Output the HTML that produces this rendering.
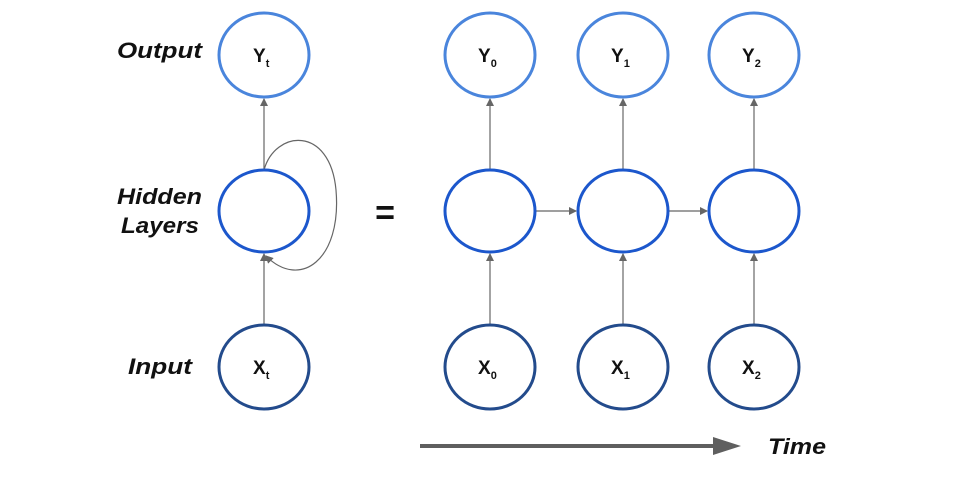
<!DOCTYPE html>
<html><head><style>body{margin:0;background:#fff}</style></head><body>
<svg width="975" height="474" viewBox="0 0 975 474" xmlns="http://www.w3.org/2000/svg" font-family="'Liberation Sans', sans-serif">
<defs><marker id="a" markerWidth="8" markerHeight="8" refX="7" refY="4" orient="auto" markerUnits="userSpaceOnUse"><path d="M0,0 L8,4 L0,8 z" fill="#666"/></marker></defs>
<g font-weight="bold" font-style="italic" font-size="22" fill="#111">
<text x="117" y="58" textLength="85" lengthAdjust="spacingAndGlyphs">Output</text>
<text x="117" y="204" textLength="85" lengthAdjust="spacingAndGlyphs">Hidden</text>
<text x="121" y="233" textLength="78" lengthAdjust="spacingAndGlyphs">Layers</text>
<text x="128" y="374" textLength="64" lengthAdjust="spacingAndGlyphs">Input</text>
<text x="768" y="454" textLength="58" lengthAdjust="spacingAndGlyphs">Time</text>
</g>
<text x="385" y="224" font-size="34" font-weight="bold" text-anchor="middle" fill="#111">=</text>
<g stroke="#666" stroke-width="1.2" fill="none">
<line x1="264" y1="170" x2="264" y2="99" marker-end="url(#a)"/>
<line x1="264" y1="325" x2="264" y2="254" marker-end="url(#a)"/>
<path d="M264,170 C275,130 330,125 336,190 C342,260 300,290 266,256" marker-end="url(#a)"/>
<line x1="490" y1="170" x2="490" y2="99" marker-end="url(#a)"/>
<line x1="623" y1="170" x2="623" y2="99" marker-end="url(#a)"/>
<line x1="754" y1="170" x2="754" y2="99" marker-end="url(#a)"/>
<line x1="490" y1="325" x2="490" y2="254" marker-end="url(#a)"/>
<line x1="623" y1="325" x2="623" y2="254" marker-end="url(#a)"/>
<line x1="754" y1="325" x2="754" y2="254" marker-end="url(#a)"/>
<line x1="536" y1="211" x2="576" y2="211" marker-end="url(#a)"/>
<line x1="669" y1="211" x2="707" y2="211" marker-end="url(#a)"/>
</g>
<line x1="420" y1="446" x2="716" y2="446" stroke="#5f5f5f" stroke-width="4"/>
<path d="M713,437 L741,446 L713,455 z" fill="#5f5f5f"/>
<g fill="none" stroke-width="3">
<g stroke="#4a85dc">
<ellipse cx="264" cy="55" rx="45" ry="42"/><ellipse cx="490" cy="55" rx="45" ry="42"/><ellipse cx="623" cy="55" rx="45" ry="42"/><ellipse cx="754" cy="55" rx="45" ry="42"/>
</g>
<g stroke="#1c57cc">
<ellipse cx="264" cy="211" rx="45" ry="41"/><ellipse cx="490" cy="211" rx="45" ry="41"/><ellipse cx="623" cy="211" rx="45" ry="41"/><ellipse cx="754" cy="211" rx="45" ry="41"/>
</g>
<g stroke="#234b8c">
<ellipse cx="264" cy="367" rx="45" ry="42"/><ellipse cx="490" cy="367" rx="45" ry="42"/><ellipse cx="623" cy="367" rx="45" ry="42"/><ellipse cx="754" cy="367" rx="45" ry="42"/>
</g>
</g>
<g font-weight="bold" font-size="19" fill="#111">
<text x="253" y="62">Y<tspan font-size="11" dy="5">t</tspan></text>
<text x="478" y="62">Y<tspan font-size="11" dy="5">0</tspan></text>
<text x="611" y="62">Y<tspan font-size="11" dy="5">1</tspan></text>
<text x="742" y="62">Y<tspan font-size="11" dy="5">2</tspan></text>
<text x="253" y="374">X<tspan font-size="11" dy="5">t</tspan></text>
<text x="478" y="374">X<tspan font-size="11" dy="5">0</tspan></text>
<text x="611" y="374">X<tspan font-size="11" dy="5">1</tspan></text>
<text x="742" y="374">X<tspan font-size="11" dy="5">2</tspan></text>
</g>
</svg>
</body></html>
